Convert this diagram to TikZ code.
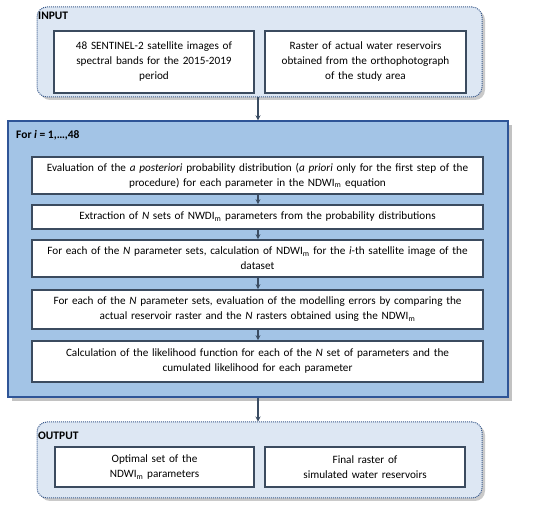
\documentclass[tikz,border=0pt]{standalone}
\usepackage{fontspec}
\setmainfont{Carlito}
\usetikzlibrary{shadows,arrows.meta}
\definecolor{iofill}{HTML}{DDE7F3}
\definecolor{ioborder}{HTML}{3A5A8C}
\definecolor{bigfill}{HTML}{A3C4E6}
\definecolor{bigborder}{HTML}{2F5597}
\definecolor{boxborder}{HTML}{3B4B5F}
\definecolor{arrcol}{HTML}{3B4D63}
\newcommand{\nohyph}{\hyphenpenalty=10000\relax\exhyphenpenalty=10000\relax}
\tikzset{
  iobox/.style={draw=ioborder, densely dotted, line width=1pt, fill=iofill, rounded corners=10pt,
    drop shadow={shadow xshift=3pt, shadow yshift=-3pt, opacity=0.35, fill=black!60}},
  bigbox/.style={draw=bigborder, line width=1.4pt, fill=bigfill,
    drop shadow={shadow xshift=4pt, shadow yshift=-4pt, opacity=0.4, fill=black!60}},
  stepbox/.style={draw=boxborder, line width=1.6pt, fill=white, align=center, inner sep=2pt,
    font=\fontsize{11.2}{15}\selectfont\nohyph},
  lbl/.style={anchor=west, font=\fontsize{11.5}{13}\selectfont\bfseries, inner sep=0pt},
  arr/.style={draw=arrcol, line width=1.1pt, -{Stealth[length=5pt,width=5pt]}},
}
\begin{document}
\begin{tikzpicture}[x=1pt,y=-1pt]
\useasboundingbox (0,0) rectangle (550,513);
% INPUT
\node[iobox, minimum width=445pt, minimum height=90pt] (input) at (259.5,52) {};
\node[lbl] (inlbl) at (38,16) {INPUT};
\node[stepbox, minimum width=200pt, minimum height=62pt, text width=195pt] (in1) at (154,62)
  {48 SENTINEL-2 satellite images of\\spectral bands for the 2015-2019\\period};
\node[stepbox, minimum width=201pt, minimum height=62pt, text width=195pt] (in2) at (365.5,62)
  {Raster of actual water reservoirs\\obtained from the orthophotograph\\of the study area};
% BIG
\node[bigbox, minimum width=500pt, minimum height=276pt] (big) at (258,259) {};
\node[lbl] (forlbl) at (16,135) {For \textit{i} = 1,…,48};
\node[stepbox, minimum width=451pt, minimum height=37pt, text width=447pt] (b1) at (257.5,175.5)
  {Evaluation of the \textit{a posteriori} probability distribution (\textit{a priori} only for the first step of the\\procedure) for each parameter in the NDWI\textsubscript{m} equation};
\node[stepbox, minimum width=451pt, minimum height=24pt, text width=447pt] (b2) at (257.5,217)
  {Extraction of \textit{N} sets of NWDI\textsubscript{m} parameters from the probability distributions};
\node[stepbox, minimum width=451pt, minimum height=37pt, text width=447pt] (b3) at (257.5,258.5)
  {For each of the \textit{N} parameter sets, calculation of NDWI\textsubscript{m} for the \textit{i}-th satellite image of the\\dataset};
\node[stepbox, minimum width=451pt, minimum height=39pt, text width=447pt] (b4) at (257.5,309.5)
  {For each of the \textit{N} parameter sets, evaluation of the modelling errors by comparing the\\actual reservoir raster and the \textit{N} rasters obtained using the NDWI\textsubscript{m}};
\node[stepbox, minimum width=451pt, minimum height=41pt, text width=447pt] (b5) at (257.5,361.5)
  {Calculation of the likelihood function for each of the \textit{N} set of parameters and the\\cumulated likelihood for each parameter};
% OUTPUT
\node[iobox, minimum width=445pt, minimum height=76pt] (output) at (259.5,460) {};
\node[lbl] (outlbl) at (38,436) {OUTPUT};
\node[stepbox, minimum width=199pt, minimum height=40pt, text width=195pt] (o1) at (154.5,467)
  {Optimal set of the\\NDWI\textsubscript{m} parameters};
\node[stepbox, minimum width=200pt, minimum height=40pt, text width=195pt] (o2) at (365,467)
  {Final raster of\\simulated water reservoirs};
% arrows
\draw[arr] (input.south -| big.north) -- (big.north);
\draw[arr] (b1.south -| big.north) -- (b2.north -| big.north);
\draw[arr] (b2.south -| big.north) -- (b3.north -| big.north);
\draw[arr] (b3.south -| big.north) -- (b4.north -| big.north);
\draw[arr] (b4.south -| big.north) -- (b5.north -| big.north);
\draw[arr] (big.south) -- (output.north -| big.south);
\end{tikzpicture}
\end{document}
